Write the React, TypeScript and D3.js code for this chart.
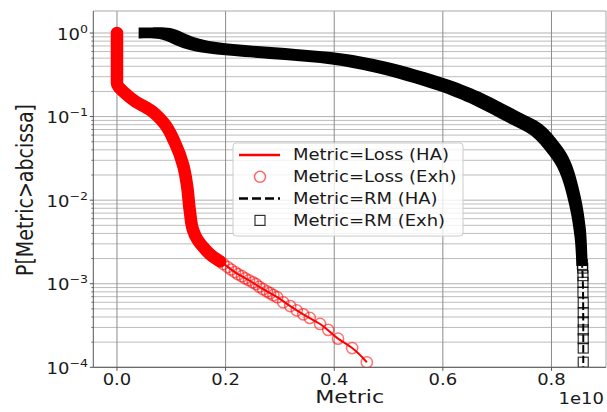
import React from "react";
import * as d3 from "d3";

// Metric values are in units of 1e10 (shown as the "1e10" offset on the axis).
const xTickValues = [0, 0.2, 0.4, 0.6, 0.8];
const xTickLabels = ["0.0", "0.2", "0.4", "0.6", "0.8"];
const yDecades = [0, -1, -2, -3, -4];
const yExpLabels = ["0", "\u22121", "\u22122", "\u22123", "\u22124"];

const legendLabels = [
  "Metric=Loss (HA)",
  "Metric=Loss (Exh)",
  "Metric=RM (HA)",
  "Metric=RM (Exh)",
];

// Loss, heuristic approximation: [metric, P(Metric > abscissa)]
const lossHA: [number, number][] = [
  [0, 1], [0, 0.25], [0.015, 0.19], [0.033, 0.153], [0.061, 0.12],
  [0.085, 0.086], [0.107, 0.048], [0.122, 0.026], [0.129, 0.015],
  [0.134, 0.0076], [0.14, 0.0044], [0.149, 0.0033], [0.162, 0.0026],
  [0.177, 0.0021], [0.193, 0.0018], [0.217, 0.00138], [0.243, 0.0011],
  [0.269, 0.00086], [0.295, 0.00069], [0.319, 0.00054], [0.343, 0.00043],
  [0.374, 0.00033], [0.407, 0.00022], [0.433, 0.00017], [0.46, 0.000115],
];

// Loss, exhaustive: run where markers overlap into a solid trace
const lossExhDense: [number, number][] = [
  [0, 1], [0, 0.25], [0.015, 0.19], [0.033, 0.153], [0.061, 0.12],
  [0.085, 0.086], [0.107, 0.048], [0.122, 0.026], [0.129, 0.015],
  [0.134, 0.0076], [0.14, 0.0044], [0.149, 0.0033], [0.162, 0.0026],
  [0.177, 0.0021], [0.19, 0.00185],
];
// Loss, exhaustive: individually visible tail markers
const lossExhTail: [number, number][] = [
  [0.196, 0.00172], [0.204, 0.00158], [0.21, 0.00148], [0.217, 0.00138],
  [0.223, 0.0013], [0.23, 0.00123], [0.236, 0.00116], [0.243, 0.0011],
  [0.25, 0.00104], [0.256, 0.00099], [0.262, 0.00092], [0.269, 0.00086],
  [0.276, 0.00081], [0.282, 0.00077], [0.288, 0.00073], [0.295, 0.00069],
  [0.306, 0.0006], [0.319, 0.00054], [0.331, 0.00048], [0.343, 0.00043],
  [0.355, 0.00039], [0.374, 0.00033], [0.389, 0.00028], [0.407, 0.00022],
  [0.433, 0.00017], [0.46, 0.000115],
];

// RM, heuristic approximation
const rmHA: [number, number][] = [
  [0.05, 1], [0.088, 0.986], [0.134, 0.759], [0.166, 0.68], [0.226, 0.617],
  [0.319, 0.553], [0.405, 0.489], [0.484, 0.392], [0.6, 0.238],
  [0.668, 0.158], [0.729, 0.0986], [0.773, 0.0689], [0.806, 0.04],
  [0.825, 0.025], [0.843, 0.01], [0.853, 0.004], [0.856, 0.0019],
  [0.858, 0.0009], [0.8585, 0.0001],
];

// RM, exhaustive: dense run of overlapping square markers
const rmExhDense: [number, number][] = [
  [0.05, 1], [0.088, 0.986], [0.134, 0.759], [0.166, 0.68], [0.226, 0.617],
  [0.319, 0.553], [0.405, 0.489], [0.484, 0.392], [0.6, 0.238],
  [0.668, 0.158], [0.729, 0.0986], [0.773, 0.0689], [0.806, 0.04],
  [0.825, 0.025], [0.843, 0.01], [0.853, 0.004], [0.856, 0.0019],
];
// RM, exhaustive: separated tail markers
const rmExhTail: [number, number][] = [
  [0.857, 0.0017], [0.8575, 0.00154], [0.858, 0.00125], [0.858, 0.00104],
  [0.858, 0.00079], [0.8585, 0.00059], [0.8585, 0.00045], [0.8585, 0.00035],
  [0.8585, 0.00028], [0.8585, 0.00022], [0.8585, 0.00017], [0.8585, 0.000115],
];

const W = 607;
const H = 412;
const SX = 1.2; // horizontal text stretch
const FONT = "DejaVu Sans, sans-serif";

const plot = { left: 93.3, right: 606, top: 11, bottom: 367.3 };

const x = d3.scaleLinear().domain([-0.0436, 0.9004]).range([plot.left, plot.right]);
const y = d3.scaleLog().domain([1e-4, 1.834]).range([plot.bottom, plot.top]);

const lossLine = d3
  .line<[number, number]>()
  .x((d) => x(d[0]))
  .y((d) => y(d[1]))
  .curve(d3.curveMonotoneY);

const rmCurve = d3.curveCatmullRom.alpha(0.5);
const rmLine = d3
  .line<[number, number]>()
  .x((d) => x(d[0]))
  .y((d) => y(d[1]))
  .curve(rmCurve);

// Union of axis-aligned squares (half side h) swept along a monotone trace.
function squareSweep(data: [number, number][], h: number): string {
  const px = data.map((d) => [x(d[0]), y(d[1])] as [number, number]);
  const l = d3.line<[number, number]>().curve(rmCurve);
  const upper = l(px.map(([a, b]) => [a + h, b - h] as [number, number])) || "";
  const lower =
    l(px.slice().reverse().map(([a, b]) => [a - h, b + h] as [number, number])) || "";
  const [x0, y0] = px[0];
  const [xn, yn] = px[px.length - 1];
  return (
    `M${x0 - h},${y0 - h}` +
    upper.replace(/^M/, "L") +
    `L${xn + h},${yn + h}` +
    lower.replace(/^M/, "L") +
    "Z"
  );
}

function STxt(props: {
  x: number;
  y: number;
  size: number;
  anchor?: string;
  children: React.ReactNode;
}) {
  const { x: tx, y: ty, size, anchor = "start", children } = props;
  return (
    <text
      transform={`translate(${tx},${ty}) scale(${SX},1)`}
      fontFamily={FONT}
      fontSize={size}
      textAnchor={anchor}
      fill="#1a1a1a"
    >
      {children}
    </text>
  );
}

export default function App() {
  const minorVals: number[] = [];
  for (let dec = -4; dec <= 0; dec++) {
    for (let k = 2; k <= 9; k++) {
      const v = k * Math.pow(10, dec);
      if (v < 1.834) minorVals.push(v);
    }
  }

  const legendRows = [155, 176.8, 198.6, 220.4];
  const hx0 = 239;
  const hx1 = 280;
  const hxm = 260;

  return (
    <svg
      width={W}
      height={H}
      style={{ position: "absolute", left: 0, top: 0, background: "#fff" }}
    >
      <defs>
        <clipPath id="plotClip">
          <rect
            x={plot.left}
            y={plot.top}
            width={plot.right - plot.left}
            height={plot.bottom - plot.top}
          />
        </clipPath>
      </defs>
      <rect width={W} height={H} fill="#fff" />

      {/* grid */}
      <g>
        {minorVals.map((v, i) => (
          <line
            key={"mn" + i}
            x1={plot.left}
            x2={plot.right}
            y1={y(v)}
            y2={y(v)}
            stroke="#bdbdbd"
            strokeWidth={1}
          />
        ))}
        {yDecades.map((dec) => (
          <line
            key={"mj" + dec}
            x1={plot.left}
            x2={plot.right}
            y1={y(Math.pow(10, dec))}
            y2={y(Math.pow(10, dec))}
            stroke="#b0b0b0"
            strokeWidth={1}
          />
        ))}
        {xTickValues.map((v) => (
          <line
            key={"vx" + v}
            x1={x(v)}
            x2={x(v)}
            y1={plot.top}
            y2={plot.bottom}
            stroke="#8c8c8c"
            strokeWidth={1}
          />
        ))}
      </g>

      {/* data */}
      <g clipPath="url(#plotClip)">
        <path
          d={lossLine(lossExhDense) || ""}
          fill="none"
          stroke="#ff0000"
          strokeWidth={12.5}
          strokeLinecap="round"
          strokeLinejoin="round"
        />
        <path d={lossLine(lossHA) || ""} fill="none" stroke="#ff0000" strokeWidth={2} />
        {lossExhTail.map((d, i) => (
          <circle
            key={"c" + i}
            cx={x(d[0])}
            cy={y(d[1])}
            r={5.6}
            fill="none"
            stroke="#ff0000"
            strokeOpacity={0.55}
            strokeWidth={1.5}
          />
        ))}
        <path
          d={rmLine(rmHA) || ""}
          fill="none"
          stroke="#000"
          strokeWidth={2}
          strokeDasharray="7.4,3.2"
        />
        <path d={squareSweep(rmExhDense, 5.5)} fill="#000" />
        {rmExhTail.map((d, i) => (
          <rect
            key={"s" + i}
            x={x(d[0]) - 5}
            y={y(d[1]) - 5}
            width={10}
            height={10}
            fill="none"
            stroke="#000"
            strokeOpacity={0.8}
            strokeWidth={1.2}
          />
        ))}
      </g>

      {/* legend */}
      <g>
        <rect
          x={233}
          y={143}
          width={230}
          height={93}
          rx={3}
          fill="#fff"
          fillOpacity={0.8}
          stroke="#cccccc"
          strokeWidth={1}
        />
        <line
          x1={hx0}
          x2={hx1}
          y1={legendRows[0]}
          y2={legendRows[0]}
          stroke="#ff0000"
          strokeWidth={2.5}
        />
        <circle
          cx={hxm}
          cy={legendRows[1]}
          r={5.5}
          fill="none"
          stroke="#ff0000"
          strokeOpacity={0.6}
          strokeWidth={1.5}
        />
        <line
          x1={hx0}
          x2={hx1}
          y1={legendRows[2]}
          y2={legendRows[2]}
          stroke="#000"
          strokeWidth={2.5}
          strokeDasharray="9,4"
        />
        <rect
          x={hxm - 5}
          y={legendRows[3] - 5}
          width={10}
          height={10}
          fill="none"
          stroke="#000"
          strokeOpacity={0.8}
          strokeWidth={1.2}
        />
        {legendLabels.map((t, i) => (
          <STxt key={t} x={293} y={legendRows[i] + 5.4} size={15}>
            {t}
          </STxt>
        ))}
      </g>

      {/* frame */}
      <line x1={plot.left} x2={plot.right} y1={plot.top} y2={plot.top} stroke="#a8a8a8" />
      <line x1={plot.right} x2={plot.right} y1={plot.top} y2={plot.bottom} stroke="#a8a8a8" />
      <line x1={plot.left} x2={plot.left} y1={plot.top} y2={plot.bottom} stroke="#555" />
      <line x1={plot.left} x2={plot.right} y1={plot.bottom} y2={plot.bottom} stroke="#555" />

      {/* y ticks */}
      {minorVals.map((v, i) => (
        <line
          key={"ymt" + i}
          x1={plot.left - 2}
          x2={plot.left}
          y1={y(v)}
          y2={y(v)}
          stroke="#555"
          strokeWidth={0.8}
        />
      ))}
      {yDecades.map((dec, i) => {
        const yy = y(Math.pow(10, dec));
        return (
          <g key={"yt" + dec}>
            <line x1={plot.left - 3.5} x2={plot.left} y1={yy} y2={yy} stroke="#555" />
            <STxt x={88} y={yy + 6.5} size={15} anchor="end">
              10
              <tspan fontSize={10.5} dy={-7}>
                {yExpLabels[i]}
              </tspan>
            </STxt>
          </g>
        );
      })}

      {/* x ticks */}
      {xTickValues.map((v, i) => (
        <g key={"xt" + v}>
          <line x1={x(v)} x2={x(v)} y1={plot.bottom} y2={plot.bottom + 3.5} stroke="#555" />
          <STxt x={x(v)} y={385} size={15} anchor="middle">
            {xTickLabels[i]}
          </STxt>
        </g>
      ))}
      <STxt x={plot.right - 2} y={404} size={15} anchor="end">
        1e10
      </STxt>

      {/* axis labels */}
      <STxt x={(plot.left + plot.right) / 2} y={402.5} size={18.5} anchor="middle">
        Metric
      </STxt>
      <g transform={`translate(33,190) scale(${SX},1) rotate(-90)`}>
        <text fontFamily={FONT} fontSize={19} textAnchor="middle" fill="#1a1a1a">
          P[Metric&gt;abcissa]
        </text>
      </g>
    </svg>
  );
}
